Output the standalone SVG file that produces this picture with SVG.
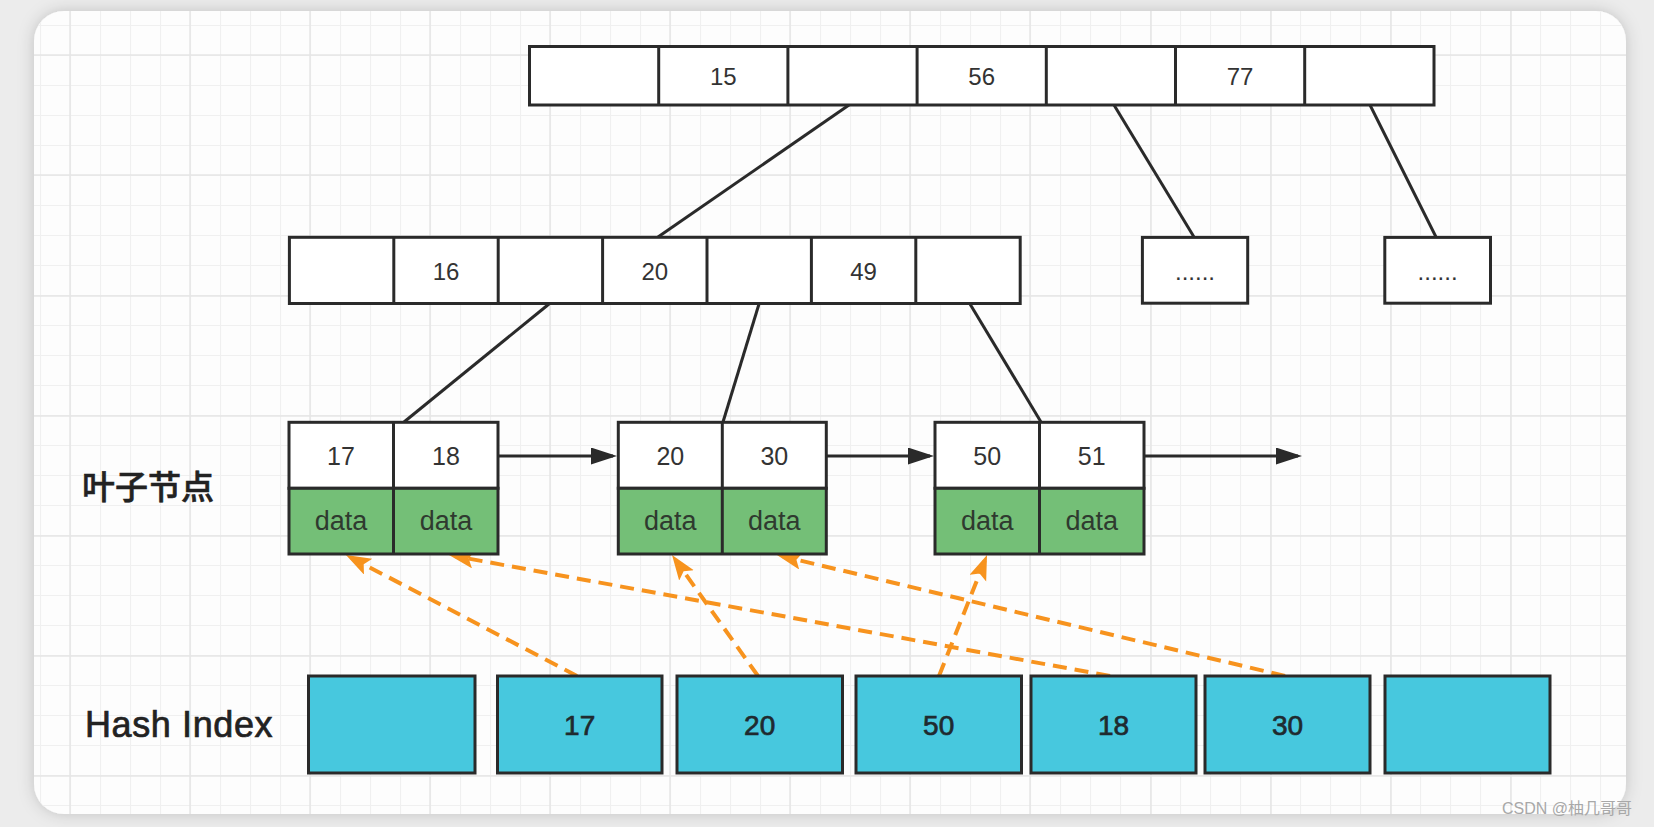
<svg xmlns="http://www.w3.org/2000/svg" width="1654" height="827" viewBox="0 0 1654 827">
  <defs>
    <style>
      .box { fill: #ffffff; stroke: #2a2a2a; stroke-width: 3; }
      .div { stroke: #2a2a2a; stroke-width: 3; }
      .leafdata { fill: #74bf77; stroke: #2a2a2a; stroke-width: 3; }
      .hash { fill: #47c8de; stroke: #2a2a2a; stroke-width: 3; }
      .num { font-family: "Liberation Sans", Arial, sans-serif; font-size: 24px; fill: #333333; text-anchor: middle; }
      .leafnum { font-family: "Liberation Sans", Arial, sans-serif; font-size: 25px; fill: #333333; text-anchor: middle; }
      .data { font-family: "Liberation Sans", Arial, sans-serif; font-size: 27px; fill: #2f3a2f; text-anchor: middle; }
      .hnum { font-family: "Liberation Sans", Arial, sans-serif; font-size: 28px; fill: #1f2a2f; stroke: #1f2a2f; stroke-width: 0.7; text-anchor: middle; }
      .label { font-family: "Liberation Sans", "Noto Sans CJK SC", sans-serif; fill: #222222; }
      .tree { stroke: #2a2a2a; stroke-width: 3; fill: none; }
      .link { stroke: #2a2a2a; stroke-width: 3; fill: none; marker-end: url(#blk); }
      .ptr { stroke: #f7931e; stroke-width: 4; fill: none; stroke-dasharray: 14 8; marker-end: url(#org); }
      .gmin { stroke: #f0f0f0; stroke-width: 1.2; }
      .gmaj { stroke: #e6e6e6; stroke-width: 1.5; }
    </style>
    <marker id="blk" markerUnits="userSpaceOnUse" markerWidth="30" markerHeight="20" refX="22" refY="8.5" orient="auto">
      <path d="M0,0 L26,8.5 L0,17 z" fill="#2a2a2a"/>
    </marker>
    <marker id="org" markerUnits="userSpaceOnUse" markerWidth="28" markerHeight="22" refX="19" refY="9" orient="auto">
      <path d="M0,0 L25,9 L0,18 L5,9 z" fill="#f7931e"/>
    </marker>
    <filter id="shadow" x="-5%" y="-5%" width="110%" height="110%">
      <feDropShadow dx="0" dy="0" stdDeviation="8" flood-color="#000000" flood-opacity="0.18"/>
    </filter>
    <clipPath id="cardclip">
      <rect x="34" y="11" width="1592" height="803" rx="30"/>
    </clipPath>
    <pattern id="gridmin" x="10" y="25" width="30" height="30" patternUnits="userSpaceOnUse">
      <path d="M0,0.5 H30 M0.5,0 V30" class="gmin"/>
    </pattern>
  </defs>

  <rect x="0" y="0" width="1654" height="827" fill="#ececec"/>
  <rect x="34" y="11" width="1592" height="803" rx="30" fill="#fdfdfd" filter="url(#shadow)"/>

  <g id="grid" clip-path="url(#cardclip)">
    <rect x="34" y="11" width="1592" height="803" fill="url(#gridmin)"/>
    <g class="gmaj">
      <line x1="70" y1="11" x2="70" y2="814"/>
      <line x1="190" y1="11" x2="190" y2="814"/>
      <line x1="310" y1="11" x2="310" y2="814"/>
      <line x1="430" y1="11" x2="430" y2="814"/>
      <line x1="550" y1="11" x2="550" y2="814"/>
      <line x1="670" y1="11" x2="670" y2="814"/>
      <line x1="790" y1="11" x2="790" y2="814"/>
      <line x1="910" y1="11" x2="910" y2="814"/>
      <line x1="1030" y1="11" x2="1030" y2="814"/>
      <line x1="1151" y1="11" x2="1151" y2="814"/>
      <line x1="1271" y1="11" x2="1271" y2="814"/>
      <line x1="1391" y1="11" x2="1391" y2="814"/>
      <line x1="1511" y1="11" x2="1511" y2="814"/>
      <line x1="34" y1="55" x2="1626" y2="55"/>
      <line x1="34" y1="175" x2="1626" y2="175"/>
      <line x1="34" y1="296" x2="1626" y2="296"/>
      <line x1="34" y1="416" x2="1626" y2="416"/>
      <line x1="34" y1="536" x2="1626" y2="536"/>
      <line x1="34" y1="656" x2="1626" y2="656"/>
      <line x1="34" y1="776" x2="1626" y2="776"/>
    </g>
  </g>

  <g id="connectors">
    <line class="tree" x1="849" y1="105" x2="658" y2="237"/>
    <line class="tree" x1="1114" y1="105" x2="1194" y2="237"/>
    <line class="tree" x1="1370" y1="105" x2="1436" y2="237"/>
    <line class="tree" x1="549" y1="304" x2="404" y2="422"/>
    <line class="tree" x1="759" y1="304" x2="723" y2="422"/>
    <line class="tree" x1="970" y1="304" x2="1041" y2="422"/>
    <line class="link" x1="498" y1="456" x2="613" y2="456"/>
    <line class="link" x1="826.5" y1="456" x2="930" y2="456"/>
    <line class="link" x1="1144" y1="456" x2="1298" y2="456"/>
    <line class="ptr" x1="577" y1="676" x2="351.3" y2="557.8"/>
    <line class="ptr" x1="1110" y1="676" x2="454.9" y2="556.1"/>
    <line class="ptr" x1="758" y1="676" x2="675.5" y2="559.9"/>
    <line class="ptr" x1="1285" y1="676" x2="782.8" y2="556.4"/>
    <line class="ptr" x1="939" y1="676" x2="984.8" y2="560.5"/>
  </g>

  <g id="root-node">
    <rect class="box" x="529.5" y="46.5" width="904.5" height="58.5"/>
    <line class="div" x1="658.7" y1="46.5" x2="658.7" y2="105"/>
    <line class="div" x1="787.9" y1="46.5" x2="787.9" y2="105"/>
    <line class="div" x1="917.1" y1="46.5" x2="917.1" y2="105"/>
    <line class="div" x1="1046.3" y1="46.5" x2="1046.3" y2="105"/>
    <line class="div" x1="1175.5" y1="46.5" x2="1175.5" y2="105"/>
    <line class="div" x1="1304.7" y1="46.5" x2="1304.7" y2="105"/>
    <text class="num" x="723.3" y="85">15</text>
    <text class="num" x="981.7" y="85">56</text>
    <text class="num" x="1240.1" y="85">77</text>
  </g>

  <g id="inner-node">
    <rect class="box" x="289.4" y="237.3" width="730.8" height="66.2"/>
    <line class="div" x1="393.8" y1="237.3" x2="393.8" y2="303.5"/>
    <line class="div" x1="498.2" y1="237.3" x2="498.2" y2="303.5"/>
    <line class="div" x1="602.6" y1="237.3" x2="602.6" y2="303.5"/>
    <line class="div" x1="707" y1="237.3" x2="707" y2="303.5"/>
    <line class="div" x1="811.4" y1="237.3" x2="811.4" y2="303.5"/>
    <line class="div" x1="915.8" y1="237.3" x2="915.8" y2="303.5"/>
    <text class="num" x="446" y="280">16</text>
    <text class="num" x="654.8" y="280">20</text>
    <text class="num" x="863.6" y="280">49</text>
  </g>

  <g id="inner-node-2">
    <rect class="box" x="1142.4" y="237.4" width="105.3" height="65.8"/>
    <text class="num" x="1195" y="280" font-size="22">......</text>
  </g>
  <g id="inner-node-3">
    <rect class="box" x="1384.8" y="237.4" width="105.7" height="65.8"/>
    <text class="num" x="1437.6" y="280" font-size="22">......</text>
  </g>

  <g id="leaf-1">
    <rect class="box" x="289" y="422.3" width="209" height="66"/>
    <rect class="leafdata" x="289" y="488.3" width="209" height="65.7"/>
    <line class="div" x1="393.5" y1="422.3" x2="393.5" y2="554"/>
    <text class="leafnum" x="341" y="465">17</text>
    <text class="leafnum" x="446" y="465">18</text>
    <text class="data" x="341" y="530">data</text>
    <text class="data" x="446" y="530">data</text>
  </g>
  <g id="leaf-2">
    <rect class="box" x="618.3" y="422.3" width="208" height="66"/>
    <rect class="leafdata" x="618.3" y="488.3" width="208" height="65.7"/>
    <line class="div" x1="722.3" y1="422.3" x2="722.3" y2="554"/>
    <text class="leafnum" x="670.3" y="465">20</text>
    <text class="leafnum" x="774.3" y="465">30</text>
    <text class="data" x="670.3" y="530">data</text>
    <text class="data" x="774.3" y="530">data</text>
  </g>
  <g id="leaf-3">
    <rect class="box" x="935" y="422.3" width="209" height="66"/>
    <rect class="leafdata" x="935" y="488.3" width="209" height="65.7"/>
    <line class="div" x1="1039.5" y1="422.3" x2="1039.5" y2="554"/>
    <text class="leafnum" x="987.2" y="465">50</text>
    <text class="leafnum" x="1091.7" y="465">51</text>
    <text class="data" x="987.2" y="530">data</text>
    <text class="data" x="1091.7" y="530">data</text>
  </g>

  <g id="hash-index">
    <rect class="hash" x="308.5" y="676" width="166.5" height="97"/>
    <rect class="hash" x="497.5" y="676" width="164.5" height="97"/>
    <rect class="hash" x="677" y="676" width="165.5" height="97"/>
    <rect class="hash" x="856" y="676" width="165.5" height="97"/>
    <rect class="hash" x="1031" y="676" width="165" height="97"/>
    <rect class="hash" x="1205" y="676" width="165" height="97"/>
    <rect class="hash" x="1385" y="676" width="165" height="97"/>
    <text class="hnum" x="579.7" y="735">17</text>
    <text class="hnum" x="759.7" y="735">20</text>
    <text class="hnum" x="938.7" y="735">50</text>
    <text class="hnum" x="1113.5" y="735">18</text>
    <text class="hnum" x="1287.5" y="735">30</text>
  </g>

  <g id="labels">
    <text class="label" x="82" y="499" font-size="33" font-weight="500" stroke="#222222" stroke-width="0.6">叶子节点</text>
    <text class="label" x="85" y="737" font-size="36" letter-spacing="0.6" stroke="#222222" stroke-width="0.7">Hash Index</text>
  </g>

  <text x="1502" y="814" font-family="'Liberation Sans', 'Noto Sans CJK SC', sans-serif" font-size="16" fill="#a8a8a8">CSDN @柚几哥哥</text>
</svg>
